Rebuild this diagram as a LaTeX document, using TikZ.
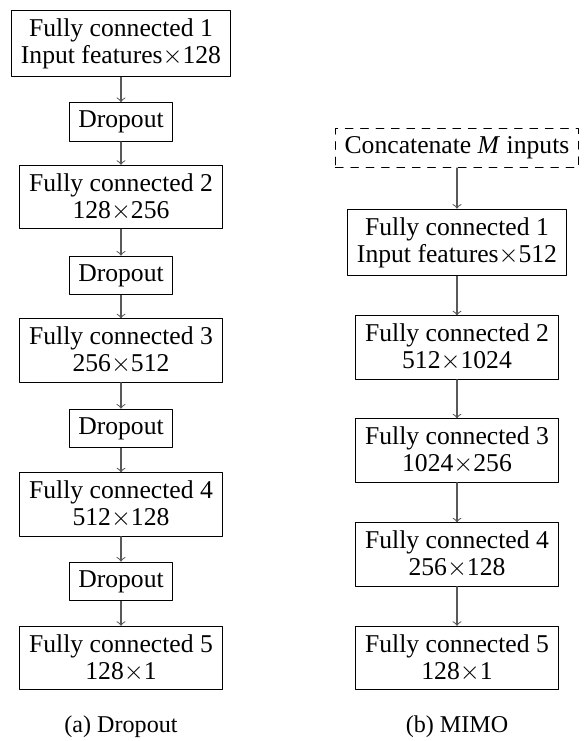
\documentclass[tikz,border=0pt]{standalone}
\usepackage{amsmath}
\usepackage{fontspec}
\setmainfont{Liberation Serif}
\usepackage{tikz}

\begin{document}
\begin{tikzpicture}[x=0.39pt,y=-0.39pt,>=to,line cap=round,line join=round,
  box/.style={draw,thin,align=center,inner xsep=3.6pt,inner ysep=3.2pt,font=\fontsize{10}{10.5}\selectfont},
  flow/.style={->,draw=black!65,thin}]
\useasboundingbox (0,0) rectangle (584,741);
% (a) dropout
\node[box] (a1) at (121,43.5) {Fully connected 1\\Input features$\times$128};
\node[box] (d1) at (121,122) {Dropout};
\node[box] (a2) at (121,197) {Fully connected 2\\128$\times$256};
\node[box] (d2) at (121,275.5) {Dropout};
\node[box] (a3) at (121,350.5) {Fully connected 3\\256$\times$512};
\node[box] (d3) at (121,428.5) {Dropout};
\node[box] (a4) at (121,504.5) {Fully connected 4\\512$\times$128};
\node[box] (d4) at (121,581.5) {Dropout};
\node[box] (a5) at (121,658) {Fully connected 5\\128$\times$1};
% (b) MIMO
\node[box,dashed] (cat) at (457,148) {Concatenate \textit{M} inputs};
\node[box] (b1) at (457,242.5) {Fully connected 1\\Input features$\times$512};
\node[box] (b2) at (457,347.5) {Fully connected 2\\512$\times$1024};
\node[box] (b3) at (457,450.5) {Fully connected 3\\1024$\times$256};
\node[box] (b4) at (457,554.5) {Fully connected 4\\256$\times$128};
\node[box] (b5) at (457,658) {Fully connected 5\\128$\times$1};
\foreach \u/\v in {a1/d1,d1/a2,a2/d2,d2/a3,a3/d3,d3/a4,a4/d4,d4/a5,cat/b1,b1/b2,b2/b3,b3/b4,b4/b5} {\draw[flow] (\u) -- (\v);}
\node[font=\fontsize{9.4}{11}\selectfont] (capa) at (121,727) {(a) Dropout};
\node[font=\fontsize{9.4}{11}\selectfont] (capb) at (457,727) {(b) MIMO};
\end{tikzpicture}
\end{document}
